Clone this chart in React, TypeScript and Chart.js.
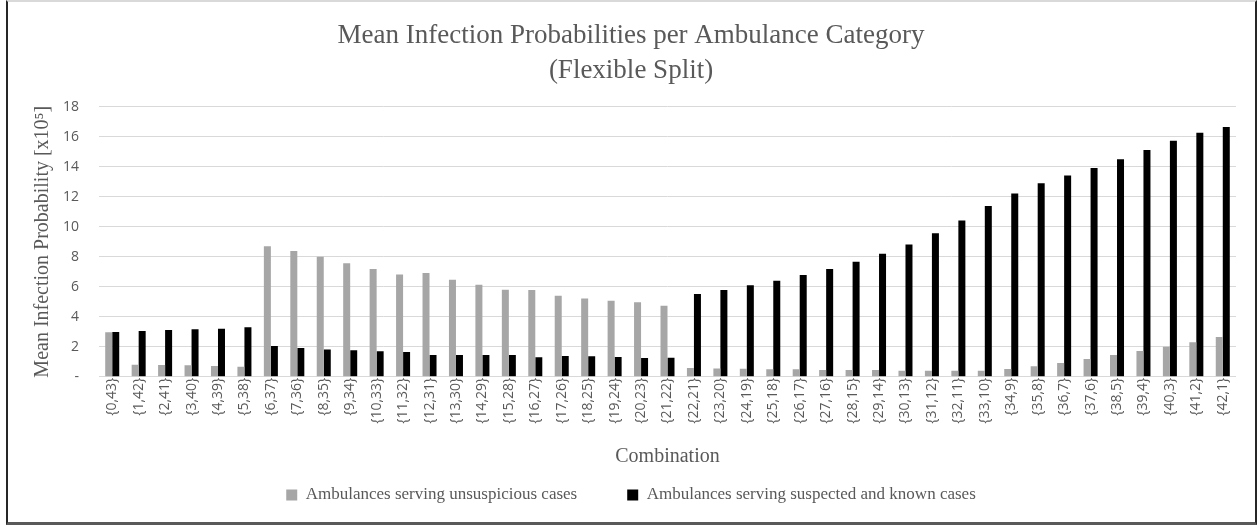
import React, { useEffect, useRef } from "react";
import { Chart, registerables } from "chart.js";

Chart.register(...registerables);

// Ambulance combinations {unsuspicious, suspected/known}
const categories = [
  "{0,43}", "{1,42}", "{2,41}", "{3,40}", "{4,39}", "{5,38}", "{6,37}", "{7,36}", "{8,35}",
  "{9,34}", "{10,33}", "{11,32}", "{12,31}", "{13,30}", "{14,29}", "{15,28}", "{16,27}",
  "{17,26}", "{18,25}", "{19,24}", "{20,23}", "{21,22}", "{22,21}", "{23,20}", "{24,19}",
  "{25,18}", "{26,17}", "{27,16}", "{28,15}", "{29,14}", "{30,13}", "{31,12}", "{32,11}",
  "{33,10}", "{34,9}", "{35,8}", "{36,7}", "{37,6}", "{38,5}", "{39,4}", "{40,3}", "{41,2}",
  "{42,1}",
];

const seriesNames = [
  "Ambulances serving unsuspicious cases",
  "Ambulances serving suspected and known cases",
];

// Mean infection probability [x10^5]
const unsuspicious = [
  2.97, 0.8, 0.78, 0.76, 0.71, 0.67, 8.69, 8.38, 8.0, 7.56, 7.18, 6.82, 6.91, 6.47, 6.13,
  5.8, 5.78, 5.4, 5.22, 5.07, 4.96, 4.73, 0.58, 0.55, 0.53, 0.49, 0.49, 0.45, 0.44, 0.44,
  0.4, 0.4, 0.4, 0.4, 0.51, 0.69, 0.91, 1.18, 1.45, 1.71, 2.0, 2.29, 2.65,
];

const suspected = [
  2.98, 3.04, 3.11, 3.16, 3.2, 3.29, 2.05, 1.91, 1.82, 1.76, 1.69, 1.64, 1.45, 1.45, 1.45,
  1.45, 1.29, 1.38, 1.36, 1.31, 1.25, 1.27, 5.51, 5.78, 6.09, 6.4, 6.78, 7.18, 7.67, 8.2,
  8.82, 9.56, 10.42, 11.38, 12.22, 12.89, 13.42, 13.91, 14.49, 15.11, 15.73, 16.27, 16.64,
];

const yMin = 0;
const yMax = 18;
const yStep = 2;
const zeroTickLabel = "-";

const titleLines = ["Mean Infection Probabilities per Ambulance Category", "(Flexible Split)"];
const yAxisTitle = "Mean Infection Probability [x10\u2075]";
const xAxisTitle = "Combination";

const serif = "'Liberation Serif', 'Times New Roman', serif";
const sans = "'Open Sans', 'Noto Sans', sans-serif";
const textGray = "#595959";

export default function App() {
  const canvasRef = useRef<HTMLCanvasElement>(null);

  useEffect(() => {
    const canvas = canvasRef.current;
    if (!canvas) return;
    const chart = new Chart(canvas, {
      type: "bar",
      data: {
        labels: categories,
        datasets: [
          { label: seriesNames[0], data: unsuspicious, backgroundColor: "#a6a6a6", borderWidth: 0 },
          { label: seriesNames[1], data: suspected, backgroundColor: "#000000", borderWidth: 0 },
        ],
      },
      options: {
        responsive: false,
        animation: false,
        devicePixelRatio: 1,
        layout: { padding: { left: 4, right: 0, top: 0, bottom: 11.5 } },
        datasets: { bar: { categoryPercentage: 0.53, barPercentage: 1 } },
        plugins: {
          tooltip: { enabled: false },
          title: {
            display: true,
            text: titleLines,
            color: textGray,
            font: { family: serif, size: 27, weight: "normal", lineHeight: 1.3 },
            padding: { top: 18.3, bottom: 18.2 },
          },
          legend: {
            display: true,
            position: "bottom",
            labels: {
              color: textGray,
              boxWidth: 11,
              boxHeight: 11,
              padding: 50,
              font: { family: serif, size: 17 },
            },
          },
        },
        scales: {
          x: {
            grid: { display: false, drawTicks: false },
            border: { display: false },
            ticks: {
              color: textGray,
              font: { family: sans, size: 14 },
              minRotation: 90,
              maxRotation: 90,
              autoSkip: false,
              padding: 1,
            },
            title: {
              display: true,
              text: xAxisTitle,
              color: textGray,
              font: { family: serif, size: 20, lineHeight: 1.2 },
              padding: { top: 0, bottom: -31.8 },
            },
            afterFit: (scale: any) => {
              scale.height = 59.8;
            },
          },
          y: {
            min: yMin,
            max: yMax,
            grid: { color: "#d9d9d9", lineWidth: 1, drawTicks: false },
            border: { display: false },
            ticks: {
              stepSize: yStep,
              color: textGray,
              font: { family: sans, size: 14 },
              padding: 20,
              callback: (v: any) => (Number(v) === 0 ? zeroTickLabel : String(v)),
            },
            title: {
              display: true,
              text: yAxisTitle,
              color: textGray,
              font: { family: serif, size: 20, lineHeight: 1.2 },
              padding: { top: 27, bottom: 0 },
            },
            afterFit: (scale: any) => {
              scale.width = 95;
            },
          },
          yRight: {
            type: "linear",
            position: "right",
            display: true,
            grid: { display: false, drawTicks: false },
            border: { display: false },
            ticks: { display: false },
            afterFit: (scale: any) => {
              scale.width = 22;
            },
          },
        },
      },
    } as any);
    return () => chart.destroy();
  }, []);

  return (
    <div
      style={{
        position: "absolute",
        left: 0,
        top: 0,
        width: 1258,
        height: 525,
        background: "#ffffff",
      }}
    >
      <canvas ref={canvasRef} width={1258} height={525} style={{ display: "block" }} />
      <div
        style={{
          position: "absolute",
          left: 6,
          top: 0,
          width: 1251,
          height: 525,
          boxSizing: "border-box",
          borderLeft: "2px solid #262626",
          borderRight: "2px solid #262626",
          borderTop: "2px solid #d9d9d9",
          borderBottom: "3px solid #595959",
          pointerEvents: "none",
        }}
      />
    </div>
  );
}
